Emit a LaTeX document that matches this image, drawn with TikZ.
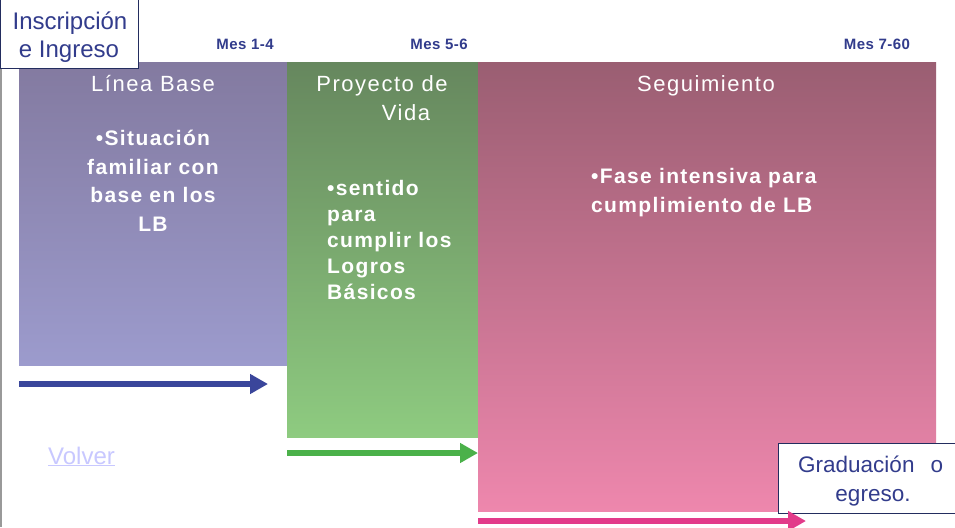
\documentclass[tikz,border=0pt]{standalone}
\usepackage{fontspec}
\setmainfont{Liberation Sans}
\newfontfamily\widefont[LetterSpace=7]{Liberation Sans}
\newfontfamily\bodyfont[LetterSpace=6.5]{Liberation Sans}
\newfontfamily\midfont[LetterSpace=3]{Liberation Sans}
\usetikzlibrary{arrows.meta}
\definecolor{navy}{RGB}{50,60,140}
\definecolor{boxline}{RGB}{35,45,95}
\definecolor{lbtop}{RGB}{131,122,160}
\definecolor{lbbot}{RGB}{156,155,205}
\definecolor{pvtop}{RGB}{102,135,94}
\definecolor{pvbot}{RGB}{142,203,128}
\definecolor{sgtop}{RGB}{154,94,114}
\definecolor{sgbot}{RGB}{238,135,173}
\definecolor{arrblue}{RGB}{58,70,155}
\definecolor{arrgreen}{RGB}{75,177,74}
\definecolor{arrpink}{RGB}{226,59,138}
\definecolor{volver}{RGB}{200,200,255}
\tikzset{
  phase/.style={anchor=north west, inner sep=0pt, draw=none},
  phtitle/.style={anchor=base, text=white, inner sep=0pt, font=\widefont\fontsize{22}{24}\selectfont},
  phbody/.style={anchor=base, text=white, inner sep=0pt, font=\bodyfont\bfseries\fontsize{21}{24}\selectfont},
  mes/.style={anchor=base, text=navy, inner sep=0pt, font=\midfont\bfseries\fontsize{15}{17}\selectfont},
  milestone/.style={anchor=north west, fill=white, draw=boxline, line width=1.3pt, inner sep=0pt},
  mstext/.style={anchor=base, text=navy, inner sep=0pt},
  flow/.style={line width=6pt, -{Triangle[length=18pt,width=19pt]}},
}
\begin{document}
\begin{tikzpicture}[x=1pt,y=-1pt]
\useasboundingbox (0,0) rectangle (955,527);
\fill[white] (0,0) rectangle (955,527);
\draw[gray!80, line width=1.5pt] (0.75,0) -- (0.75,527);

% phase boxes
\node[phase, minimum width=268pt, minimum height=303pt, top color=lbtop, bottom color=lbbot] (lb) at (19,62) {};
\node[phase, minimum width=191pt, minimum height=375pt, top color=pvtop, bottom color=pvbot] (pv) at (287,62) {};
\node[phase, minimum width=458pt, minimum height=449pt, top color=sgtop, bottom color=sgbot] (sg) at (478,62) {};

% titles
\node[phtitle] (t1) at (153,91) {Línea Base};
\node[phtitle] (t2a) at (382,91.5) {Proyecto de};
\node[phtitle] (t2b) at (406,120) {Vida};
\node[phtitle] (t3) at (706,91) {Seguimiento};

% bodies
\node[phbody] (b1a) at (153,145.5) {•Situación};
\node[phbody] (b1b) at (153,174) {familiar con};
\node[phbody] (b1c) at (153,202.7) {base en los};
\node[phbody] (b1d) at (153,231.5) {LB};

\node[phbody, anchor=base west] (b2a) at (327,195) {•sentido};
\node[phbody, anchor=base west] (b2b) at (327,221) {para};
\node[phbody, anchor=base west] (b2c) at (327,247) {cumplir los};
\node[phbody, anchor=base west] (b2d) at (327,273) {Logros};
\node[phbody, anchor=base west] (b2e) at (327,299) {Básicos};

\node[phbody, anchor=base west] (b3a) at (591,183) {•Fase intensiva para};
\node[phbody, anchor=base west] (b3b) at (591,212.5) {cumplimiento de LB};

% month labels
\node[mes] (m1) at (245,50) {Mes 1-4};
\node[mes] (m2) at (439,50) {Mes 5-6};
\node[mes] (m3) at (877,50) {Mes 7-60};

% milestones
\node[milestone, minimum width=138pt, minimum height=69pt] (ins) at (-0.5,-1) {};
\node[mstext, font=\fontsize{24}{26}\selectfont] (insa) at (70,30) {Inscripción};
\node[mstext, font=\fontsize{24}{26}\selectfont] (insb) at (69,58) {e Ingreso};

\node[milestone, minimum width=190pt, minimum height=70pt] (grad) at (778,443) {};
\node[mstext, font=\fontsize{22.5}{24}\selectfont, anchor=base west] (grada) at (798,472) {Graduación\hspace{16pt}o};
\node[mstext, font=\fontsize{22.5}{24}\selectfont] (gradb) at (873,501) {egreso.};

% arrows
\coordinate (a1s) at (19,384);
\coordinate (a1e) at (268,384);
\coordinate (a2s) at (287,453);
\coordinate (a2e) at (478,453);
\coordinate (a3s) at (478,521);
\coordinate (a3e) at (806,521);
\draw[flow, arrblue] (a1s) -- (a1e);
\draw[flow, arrgreen] (a2s) -- (a2e);
\draw[flow, arrpink] (a3s) -- (a3e);

% link
\node[anchor=base west, inner sep=0pt, text=volver, font=\fontsize{24}{26}\selectfont] (vol) at (48,464) {\underline{Volver}};
\end{tikzpicture}
\end{document}
